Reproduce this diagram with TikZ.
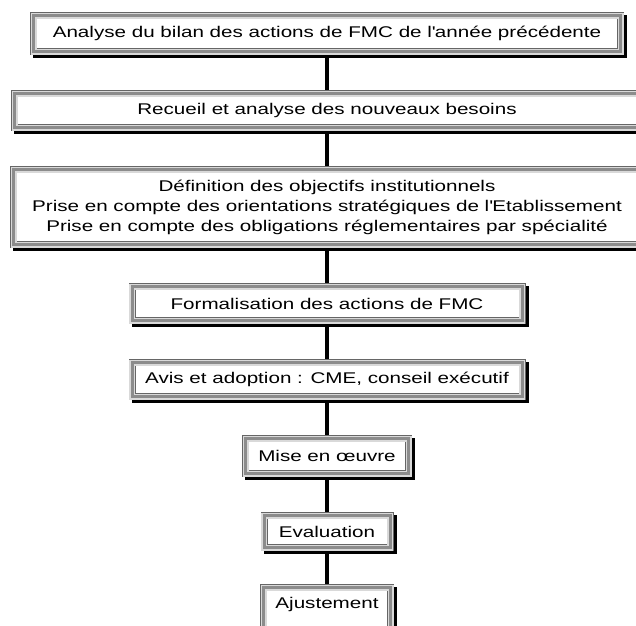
\documentclass[tikz,border=0pt]{standalone}
\usepackage{fontspec}
\setmainfont[FakeStretch=1.33]{Liberation Sans}
\usetikzlibrary{positioning}

\tikzset{
  etape/.style={rectangle, align=center, inner sep=0pt, outer sep=3.5pt,
    draw=gray!90, line width=3pt,
    preaction={fill=black, draw=black, line width=7pt, transform canvas={shift={(3pt,-3pt)}}},
    preaction={fill=white, draw=none},
    preaction={draw=black!60, line width=7pt},
    preaction={draw=gray!30, line width=6pt},
    font=\fontsize{15.5}{20}\selectfont, text=black},
  lien/.style={line width=4pt, black}
}

\begin{document}
\begin{tikzpicture}[x=1pt, y=-1pt, node distance=35pt]
  \clip (0,0) rectangle (636,625);
  \useasboundingbox (0,0) rectangle (636,625);
  \node[etape, minimum width=587pt, minimum height=36pt] (analyse) at (327,33.5)
    {Analyse du bilan des actions de FMC de l\textquotesingle année précédente};
  \node[etape, minimum width=625pt, minimum height=34pt] (recueil) [below=of analyse]
    {Recueil et analyse des nouveaux besoins};
  \node[etape, minimum width=627pt, minimum height=75pt] (definition) [below=of recueil]
    {Définition des objectifs institutionnels\\
     Prise en compte des orientations stratégiques de l\textquotesingle Etablissement\\
     Prise en compte des obligations réglementaires par spécialité};
  \node[etape, minimum width=390pt, minimum height=34pt] (formalisation) [below=of definition]
    {Formalisation des actions de FMC};
  \node[etape, minimum width=390pt, minimum height=34pt] (avis) [below=of formalisation]
    {Avis et adoption : CME, conseil exécutif};
  \node[etape, minimum width=163pt, minimum height=35pt] (oeuvre) [below=of avis]
    {Mise en œuvre};
  \node[etape, minimum width=126pt, minimum height=32pt] (evaluation) [below=of oeuvre]
    {Evaluation};
  % la derniere boite sort du cadre en bas
  \node[etape, minimum width=127pt, minimum height=50pt, text height=11pt, text depth=20pt]
    (ajustement) [below=33pt of evaluation] {Ajustement};
  \draw[lien] (analyse) -- (recueil);
  \draw[lien] (recueil) -- (definition);
  \draw[lien] (definition) -- (formalisation);
  \draw[lien] (formalisation) -- (avis);
  \draw[lien] (avis) -- (oeuvre);
  \draw[lien] (oeuvre) -- (evaluation);
  \draw[lien] (evaluation) -- (ajustement);
\end{tikzpicture}
\end{document}
